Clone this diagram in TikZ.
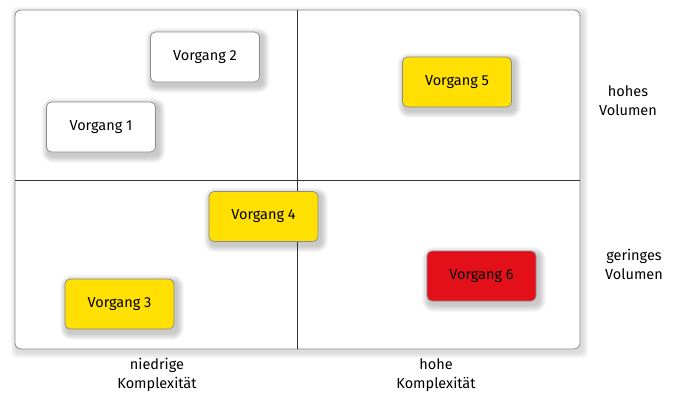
\documentclass[tikz,border=0pt]{standalone}
\usepackage{fontspec}
\setmainfont{Fira Sans}
\definecolor{vyellow}{HTML}{FFE000}
\definecolor{vred}{HTML}{E3101A}
\definecolor{vframe}{HTML}{8A8A8A}
\pgfdeclarelayer{bgsh}
\pgfdeclarelayer{bg}
\pgfdeclarelayer{shad}
\pgfsetlayers{bgsh,bg,shad,main}
\newcommand\softsh[3]{% node, layer, base radius
  \begin{pgfonlayer}{#2}
  \foreach \r in {1,...,7}{
    \pgfmathsetmacro\rc{#3+\r}
    \fill[black,opacity=0.032,rounded corners=\rc pt]
      ([shift={(2.5-\r,3.5-\r)}]#1.north west) rectangle ([shift={(2.5+\r,3.5+\r)}]#1.south east);
  }
  \end{pgfonlayer}}
\begin{document}
\begin{tikzpicture}[x=1pt,y=-1pt,
  vbox/.style={draw=vframe, line width=0.7pt, rounded corners=5pt, minimum width=109pt, minimum height=50pt, inner sep=0pt, font=\fontsize{14.5}{17}\selectfont},
  lbl/.style={align=center, font=\fontsize{14.5}{19}\selectfont}]
\useasboundingbox (0,0) rectangle (678,399);
\begin{pgfonlayer}{bg}
\node[draw=vframe, line width=0.8pt, rounded corners=6pt, fill=white, minimum width=565pt, minimum height=339pt, inner sep=0pt] (frame) at (297.5,179.5) {};
\end{pgfonlayer}
\begin{pgfonlayer}{bgsh}
\foreach \r in {1,...,6}{
  \fill[black,opacity=0.025,rounded corners=6pt]
    ([shift={(2-\r,3-\r)}]frame.north west) rectangle ([shift={(2+\r,3+\r)}]frame.south east);
}
\end{pgfonlayer}
\coordinate (vt) at (297,10);
\coordinate (vb) at (297,349);
\coordinate (hl) at (15,180);
\coordinate (hr) at (580,180);
\draw[line width=0.7pt, black!80] (vt) -- (vb);
\draw[line width=0.7pt, black!80] (hl) -- (hr);
\node[vbox, fill=white] (v2) at (205,57) {Vorgang 2};
\node[vbox, fill=white] (v1) at (101,127) {Vorgang 1};
\node[vbox, fill=vyellow] (v5) at (457,82) {Vorgang 5};
\node[vbox, fill=vyellow] (v4) at (263.5,216.5) {Vorgang 4};
\node[vbox, fill=vyellow] (v3) at (119.5,304) {Vorgang 3};
\node[vbox, fill=vred] (v6) at (481.5,276) {Vorgang 6};
\softsh{v1}{shad}{4}\softsh{v2}{shad}{4}\softsh{v3}{shad}{4}
\softsh{v4}{shad}{4}\softsh{v5}{shad}{4}\softsh{v6}{shad}{4}
\node[lbl] (hv) at (628,101) {hohes\\Volumen};
\node[lbl] (gv) at (634,264) {geringes\\Volumen};
\node[lbl] (nk) at (157,375) {niedrige\\Komplexität};
\node[lbl] (hk) at (436,375) {hohe\\Komplexität};
\end{tikzpicture}
\end{document}
